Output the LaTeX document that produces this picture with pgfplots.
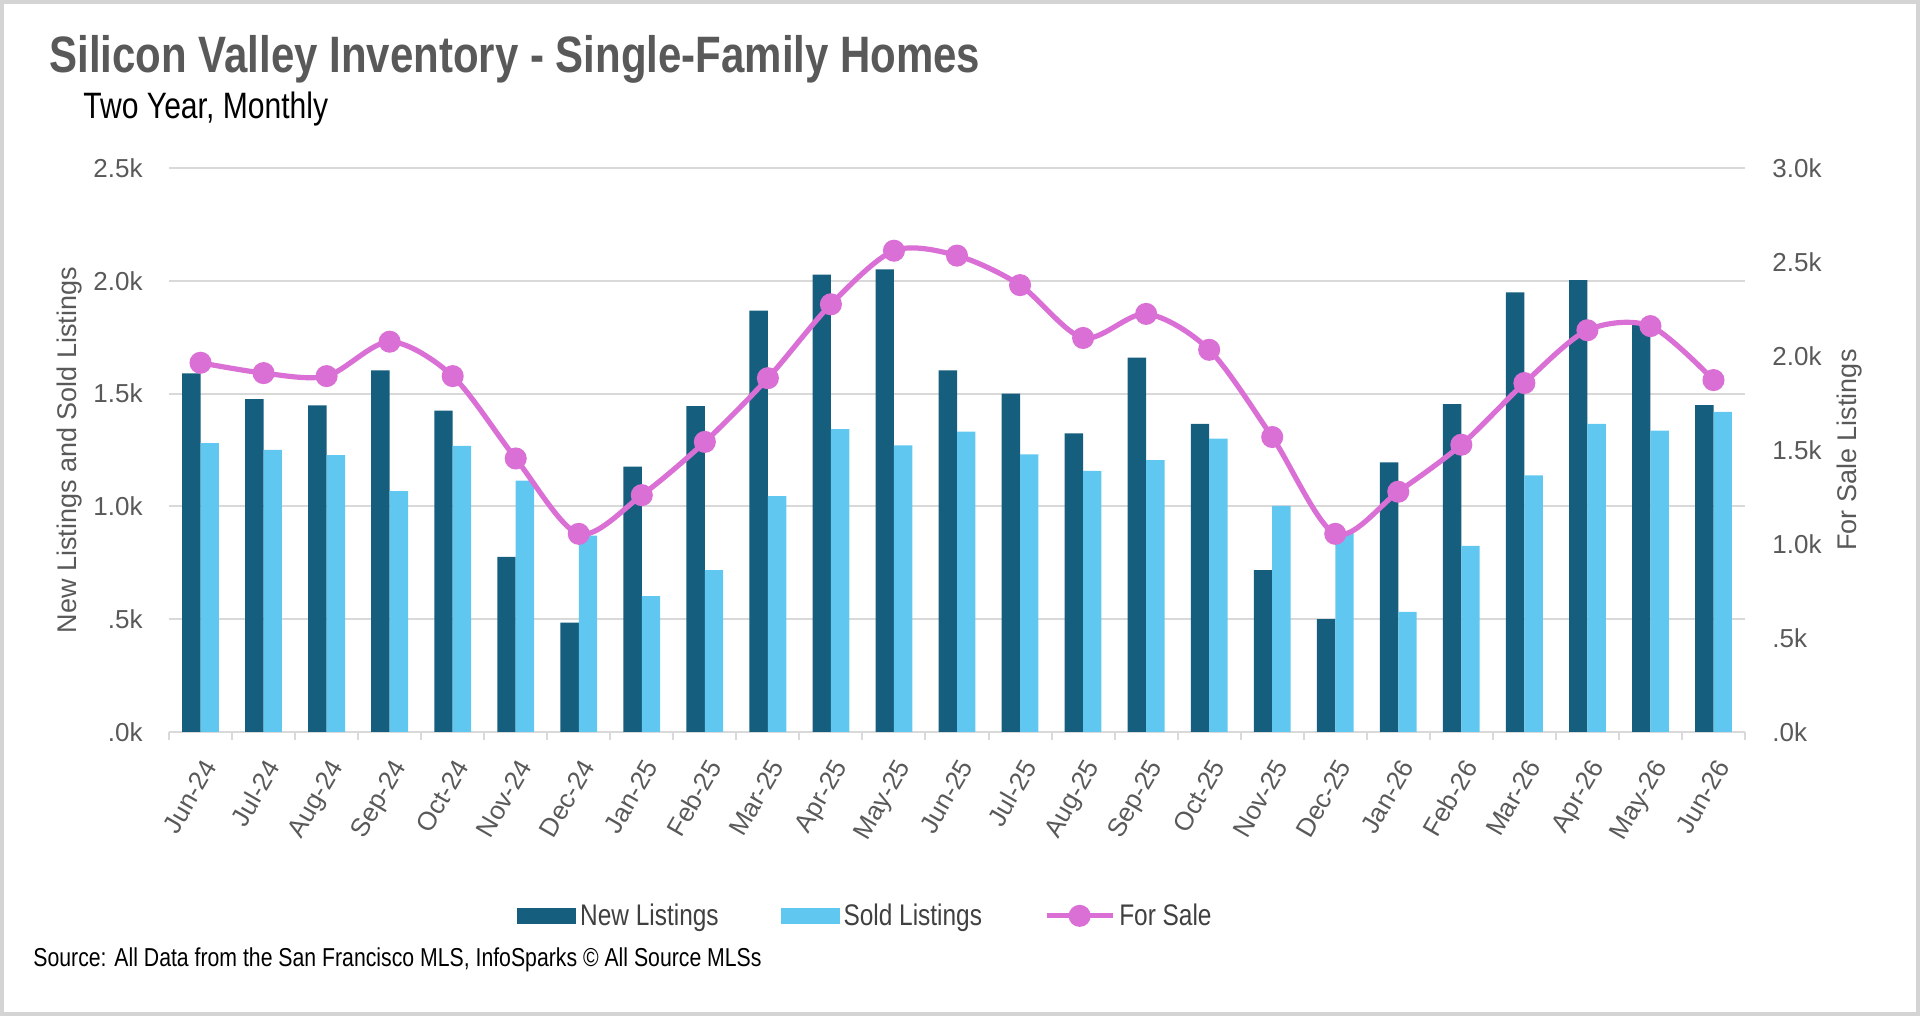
\documentclass[border=0pt]{standalone}
\usepackage{fontspec}
\usepackage{pgfplots}
\usepackage{pgfplotstable}
\pgfplotsset{compat=1.18}
\setmainfont{Liberation Sans}
\newfontfamily\condfont[FakeStretch=0.82]{Liberation Sans}

\definecolor{newlist}{RGB}{22,94,126}
\definecolor{soldlist}{RGB}{96,200,240}
\definecolor{forsale}{RGB}{218,112,214}
\definecolor{txtgray}{RGB}{89,89,89}
\definecolor{legendgray}{RGB}{64,64,64}
\definecolor{gridgray}{RGB}{217,217,217}
\definecolor{framegray}{RGB}{212,212,212}

% monthly inventory: new listings, sold listings, homes for sale
\pgfplotstableread{
idx new  sold forsale
0   1590 1280 1964
1   1476 1251 1909
2   1448 1227 1893
3   1603 1068 2076
4   1424 1268 1893
5   776  1114 1455
6   485  870  1054
7   1176 602  1260
8   1444 717  1543
9   1868 1046 1882
10  2027 1342 2275
11  2051 1271 2560
12  1603 1331 2534
13  1500 1231 2377
14  1324 1158 2096
15  1659 1205 2224
16  1366 1300 2033
17  717  1002 1569
18  500  890  1054
19  1195 532  1278
20  1453 825  1528
21  1949 1137 1856
22  2003 1366 2137
23  1810 1336 2159
24  1449 1419 1872
}\inventory

\begin{document}
\begin{tikzpicture}
\useasboundingbox (0pt,0pt) rectangle (960pt,508pt);
\draw[framegray, line width=2pt] (1pt,1pt) rectangle (959pt,507pt);

\node[anchor=base west, inner sep=0pt, text=txtgray,
      font=\condfont\bfseries\fontsize{25.6}{30}\selectfont]
  at (24.5pt,471.5pt) {Silicon Valley Inventory - Single-Family Homes};
\node[anchor=base west, inner sep=0pt,
      font=\condfont\fontsize{18.35}{21}\selectfont]
  at (41.5pt,448.5pt) {Two Year, Monthly};
\node[anchor=base west, inner sep=0pt,
      font=\condfont\fontsize{12.95}{15}\selectfont]
  at (16.5pt,24.5pt) {Source: All Data from the San Francisco MLS, InfoSparks © All Source MLSs};

% bars on the left axis
\begin{axis}[
  at={(84.5pt,142pt)}, anchor=south west,
  scale only axis, width=788pt, height=282pt,
  xmin=-0.5, xmax=24.5, ymin=0, ymax=2500,
  axis x line*=bottom, axis y line*=left,
  y axis line style={draw=none},
  x axis line style={gridgray, line width=1pt},
  tick align=outside,
  major tick length=0pt, minor tick length=4pt,
  every minor tick/.append style={gridgray, line width=1pt},
  xtick={0,...,24},
  minor xtick={-0.5,0.5,...,24.5},
  xticklabels={Jun-24,Jul-24,Aug-24,Sep-24,Oct-24,Nov-24,Dec-24,Jan-25,Feb-25,Mar-25,Apr-25,May-25,Jun-25,Jul-25,Aug-25,Sep-25,Oct-25,Nov-25,Dec-25,Jan-26,Feb-26,Mar-26,Apr-26,May-26,Jun-26},
  xticklabel style={xshift=0.5pt, yshift=-12.5pt, rotate=60,
                    anchor=north east, inner sep=0pt,
                    font=\fontsize{13}{15}\selectfont, text=txtgray},
  ytick={0,500,...,2500},
  yticklabels={.0k,.5k,1.0k,1.5k,2.0k,2.5k},
  yticklabel style={anchor=east, inner sep=0pt, xshift=-13pt,
                    font=\fontsize{13}{15}\selectfont, text=txtgray},
  ymajorgrids, grid style={gridgray, line width=1pt},
  ylabel={New Listings and Sold Listings},
  ylabel style={at={(axis description cs:-0.0628,0.5)}, anchor=center,
                font=\fontsize{13.5}{16}\selectfont, text=txtgray},
]
\addplot[ybar, bar width=9.2pt, bar shift=-4.6pt, fill=newlist, draw=none]
  table[x=idx, y=new] {\inventory};
\addplot[ybar, bar width=9.2pt, bar shift=4.6pt, fill=soldlist, draw=none]
  table[x=idx, y=sold] {\inventory};
\end{axis}

% homes for sale on the right axis
\begin{axis}[
  at={(84.5pt,142pt)}, anchor=south west,
  scale only axis, width=788pt, height=282pt,
  xmin=-0.5, xmax=24.5, ymin=0, ymax=3000,
  axis x line=none, axis y line*=right,
  y axis line style={draw=none},
  major tick length=0pt,
  ytick={0,500,...,3000},
  yticklabels={.0k,.5k,1.0k,1.5k,2.0k,2.5k,3.0k},
  yticklabel style={anchor=west, inner sep=0pt, xshift=13.5pt,
                    font=\fontsize{13}{15}\selectfont, text=txtgray},
  ylabel={For Sale Listings},
  ylabel style={at={(axis description cs:1.066,0.5)}, anchor=center, rotate=0,
                font=\fontsize{13.5}{16}\selectfont, text=txtgray},
  legend columns=3,
  legend style={at={(axis description cs:0.2208,-0.326)}, anchor=west,
                draw=none, fill=none, inner sep=0pt,
                font=\condfont\fontsize{14.9}{17}\selectfont, text=legendgray,
                /tikz/every even column/.append style={column sep=29pt}},
]
\addlegendimage{legend image code/.code={\fill[newlist] (0pt,-3.75pt) rectangle (29pt,3.75pt);}}
\addlegendentry{New Listings}
\addlegendimage{legend image code/.code={\fill[soldlist] (0pt,-3.75pt) rectangle (29pt,3.75pt);}}
\addlegendentry{Sold Listings}
\addplot[smooth, forsale, line width=2.6pt, mark=*, mark size=4.2pt,
         mark options={fill=forsale, draw=none},
         legend image code/.code={
           \draw[forsale, line width=2.6pt] (0pt,0pt) -- (33pt,0pt);
           \draw[forsale] plot[mark=*, mark size=4.2pt, mark options={fill=forsale, draw=none}] coordinates {(16.5pt,0pt)};}]
  table[x=idx, y=forsale] {\inventory};
\addlegendentry{For Sale}
\end{axis}
\end{tikzpicture}
\end{document}
